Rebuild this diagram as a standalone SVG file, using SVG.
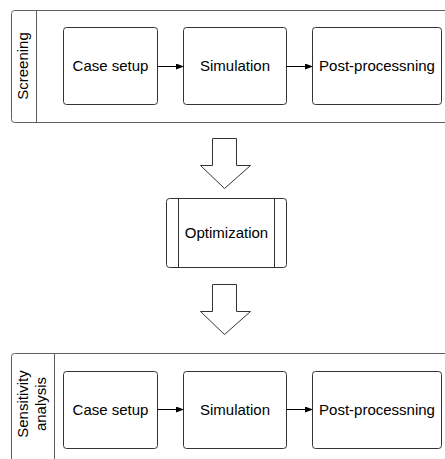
<svg xmlns="http://www.w3.org/2000/svg" width="445" height="459" viewBox="0 0 445 459">
<style>
.pool{fill:#fff;stroke:#5e5e5e;stroke-width:1}
.box{fill:#fff;stroke:#333;stroke-width:1}
.t{font-family:"Liberation Sans",Arial,sans-serif;font-size:15px;fill:#000;text-anchor:middle;dominant-baseline:central}
.c{stroke:#000;stroke-width:1;fill:none}
</style>
<defs>
<marker id="ah" markerWidth="8" markerHeight="6" refX="7" refY="3" orient="auto" markerUnits="userSpaceOnUse">
<path d="M0,0 L8,3 L0,6 Z" fill="#000"/>
</marker>
</defs>
<rect x="0" y="0" width="445" height="459" fill="#fff"/>
<g id="pool-screening">
<path class="pool" d="M450,10.5 H14.5 Q11.5,10.5 11.5,13.5 V119.5 Q11.5,122.5 14.5,122.5 H450"/>
<line class="pool" x1="36.5" y1="10.5" x2="36.5" y2="122.5"/>
<text class="t" transform="translate(22,66) rotate(-90)">Screening</text>
</g>
<g id="s-case">
<rect class="box" x="63.5" y="27.5" width="94" height="77" rx="3"/>
<text class="t" x="110.5" y="65">Case setup</text>
</g>
<g id="s-sim">
<rect class="box" x="183.5" y="27.5" width="103" height="77" rx="3"/>
<text class="t" x="235" y="65">Simulation</text>
</g>
<g id="s-post">
<rect class="box" x="312.5" y="27.5" width="129" height="77" rx="3"/>
<text class="t" x="377" y="65">Post-processning</text>
</g>
<g id="arrow1">
<path class="box" d="M212.5,138.5 H236.5 V165.5 H250.5 L224.5,188.5 L200.5,165.5 H212.5 Z"/>
</g>
<g id="optimization">
<rect class="box" x="166.5" y="198.5" width="120" height="69" rx="3"/>
<line class="box" x1="178.5" y1="198.5" x2="178.5" y2="267.5"/>
<line class="box" x1="274.5" y1="198.5" x2="274.5" y2="267.5"/>
<text class="t" x="226.5" y="232">Optimization</text>
</g>
<g id="arrow2">
<path class="box" d="M212.5,284.5 H236.5 V311.5 H250.5 L224.5,334.5 L200.5,311.5 H212.5 Z"/>
</g>
<g id="pool-sensitivity">
<path class="pool" d="M450,353.5 H14.5 Q11.5,353.5 11.5,356.5 V465"/>
<line class="pool" x1="54.5" y1="353.5" x2="54.5" y2="465"/>
<text class="t" transform="translate(31,404) rotate(-90)"><tspan x="0" dy="-9">Sensitivity</tspan><tspan x="0" dy="18">analysis</tspan></text>
</g>
<g id="a-case">
<rect class="box" x="63.5" y="371.5" width="94" height="77" rx="3"/>
<text class="t" x="110.5" y="409">Case setup</text>
</g>
<g id="a-sim">
<rect class="box" x="183.5" y="371.5" width="103" height="77" rx="3"/>
<text class="t" x="235" y="409">Simulation</text>
</g>
<g id="a-post">
<rect class="box" x="312.5" y="371.5" width="129" height="77" rx="3"/>
<text class="t" x="377" y="409">Post-processning</text>
</g>
<g id="connectors">
<line class="c" x1="157.5" y1="66.5" x2="183" y2="66.5" marker-end="url(#ah)"/>
<line class="c" x1="286.5" y1="66.5" x2="312" y2="66.5" marker-end="url(#ah)"/>
<line class="c" x1="157.5" y1="409.5" x2="183" y2="409.5" marker-end="url(#ah)"/>
<line class="c" x1="286.5" y1="409.5" x2="312" y2="409.5" marker-end="url(#ah)"/>
</g>
</svg>
